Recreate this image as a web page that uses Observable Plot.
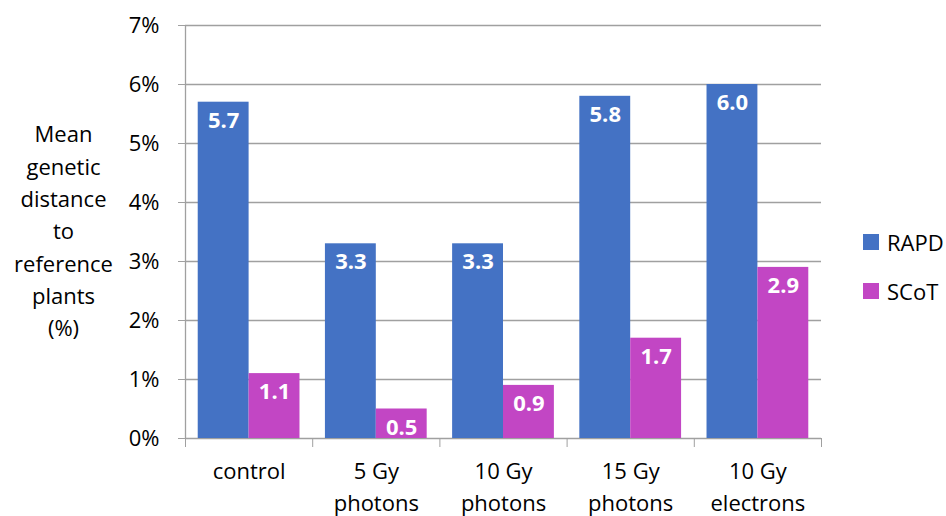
<!DOCTYPE html>
<html>
<head>
<meta charset="utf-8">
<script src="https://cdn.jsdelivr.net/npm/d3@7"></script>
<script src="https://cdn.jsdelivr.net/npm/@observablehq/plot@0.6"></script>
<style>
  html, body { margin: 0; padding: 0; background: #fff; }
  #wrap { position: relative; width: 946px; height: 516px; font-family: "Open Sans", sans-serif; }
  #legend { position: absolute; left: 863px; top: 228px; font-size: 22px; color: #000; }
  #legend .item { display: flex; align-items: center; height: 28px; margin-bottom: 21px; }
  #legend .sw { width: 16px; height: 16px; margin-right: 8px; }
</style>
</head>
<body>
<div id="wrap"></div>
<script>
// Treatments along the x axis (line breaks as they wrap under the axis)
const categories = ["control", "5 Gy\nphotons", "10 Gy\nphotons", "15 Gy\nphotons", "10 Gy\nelectrons"];
// Marker systems
const series = ["RAPD", "SCoT"];
const colors = ["#4472C4", "#C246C4"];
// Mean genetic distance to reference plants, in percent
const rapd = [5.7, 3.3, 3.3, 5.8, 6.0];
const scot = [1.1, 0.5, 0.9, 1.7, 2.9];
// Y axis ticks (percent)
const yTicks = [0, 1, 2, 3, 4, 5, 6, 7];

// Each category occupies one unit on a linear x scale; the two bars
// sit side by side, leaving a gap of 10% of the slot on either side.
const inset = 0.1;
const bars = [];
categories.forEach((c, i) => {
  bars.push({category: c, series: "RAPD", value: rapd[i], x1: i + inset, x2: i + 0.5});
  bars.push({category: c, series: "SCoT", value: scot[i], x1: i + 0.5, x2: i + 1 - inset});
});
const boundaries = d3.range(categories.length + 1);
const centers = categories.map((_, i) => i + 0.5);
const gridColor = "#a0a0a0";

const chart = Plot.plot({
  width: 946,
  height: 516,
  marginLeft: 185,
  marginRight: 125,
  marginTop: 25,
  marginBottom: 78,
  style: {fontFamily: "Open Sans, sans-serif", fontSize: "22px", color: "#000", background: "#fff"},
  x: {type: "linear", domain: [0, categories.length], axis: null},
  y: {domain: [0, 7], axis: null},
  color: {domain: series, range: colors},
  marks: [
    // horizontal gridlines
    Plot.ruleY(yTicks, {y: d => d, x1: 0, x2: categories.length, stroke: gridColor, strokeWidth: 1.3}),
    // value axis
    Plot.axisY({
      ticks: yTicks, tickSize: 7, tickPadding: 19, tickFormat: d => d + "%",
      stroke: gridColor, fill: "#000", fontSize: 22, label: null
    }),
    Plot.ruleX([0], {y1: 0, y2: 7, stroke: gridColor, strokeWidth: 1.3}),
    // category separators below the baseline
    Plot.axisX({ticks: boundaries, tickSize: 9, tickFormat: () => "", stroke: gridColor, label: null}),
    // category labels
    Plot.axisX({
      ticks: centers, tickSize: 0, tickPadding: 18, lineHeight: 1.45,
      tickFormat: x => categories[Math.floor(x)], fill: "#000", fontSize: 22, label: null
    }),
    // bars
    Plot.rectY(bars, {x1: "x1", x2: "x2", y1: 0, y2: "value", fill: "series"}),
    // value labels inside the top of each bar
    Plot.text(bars, {
      x: d => (d.x1 + d.x2) / 2, y: "value", text: d => d.value.toFixed(1),
      fill: "#fff", fontWeight: "bold", fontSize: 22, lineAnchor: "top", dy: 10
    }),
    // y axis title
    Plot.text(["Mean\ngenetic\ndistance\nto\nreference\nplants\n(%)"], {
      frameAnchor: "left", dx: -122, dy: -3, textAnchor: "middle", lineAnchor: "middle",
      lineHeight: 1.47, fontSize: 22, fill: "#000"
    })
  ]
});

const wrap = document.getElementById("wrap");
wrap.appendChild(chart);

// legend
const legend = document.createElement("div");
legend.id = "legend";
series.forEach((s, i) => {
  const item = document.createElement("div");
  item.className = "item";
  const sw = document.createElement("span");
  sw.className = "sw";
  sw.style.background = colors[i];
  const label = document.createElement("span");
  label.textContent = s;
  item.appendChild(sw);
  item.appendChild(label);
  legend.appendChild(item);
});
wrap.appendChild(legend);
</script>
</body>
</html>
